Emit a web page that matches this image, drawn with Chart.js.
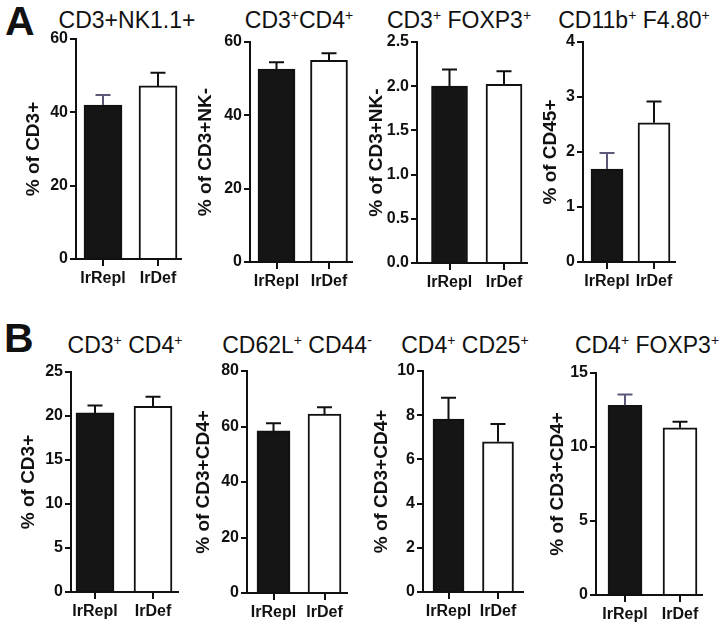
<!DOCTYPE html>
<html><head><meta charset="utf-8">
<script src="https://cdn.jsdelivr.net/npm/chart.js@4/dist/chart.umd.min.js"></script>
<style>
html,body{margin:0;padding:0;background:#fff;}
body{width:726px;height:635px;position:relative;overflow:hidden;font-family:"Liberation Sans",Arial,sans-serif;color:#111;}
.ttl{position:absolute;font-size:23px;white-space:nowrap;transform:translate(-50%,-50%);line-height:1;}
.ttl .sp{font-size:14px;position:relative;top:-8px;}
.let{position:absolute;font-weight:bold;font-size:41px;line-height:1;}
canvas{position:absolute;}
</style></head><body>
<div class="let" style="left:5px;top:1px">A</div>
<div class="let" style="left:4px;top:318px">B</div>
<script>
// ---- data ----
const groups = ['IrRepl', 'IrDef'];
const panelTitles = ['CD3+NK1.1+', 'CD3⁺CD4⁺', 'CD3⁺ FOXP3⁺', 'CD11b⁺ F4.80⁺',
                     'CD3⁺ CD4⁺', 'CD62L⁺ CD44⁻', 'CD4⁺ CD25⁺', 'CD4⁺ FOXP3⁺'];
const yTitles = ['% of CD3+', '% of CD3+NK-', '% of CD3+NK-', '% of CD45+',
                 '% of CD3+', '% of CD3+CD4+', '% of CD3+CD4+', '% of CD3+CD4+'];
const yMax  = [60, 60, 2.5, 4, 25, 80, 10, 15];
const yStep = [20, 20, 0.5, 1, 5, 20, 2, 5];
const yDecimals = [0, 0, 1, 0, 0, 0, 0, 0];

const meanA1 = [42.0, 47.2],  semA1 = [2.7, 3.6];
const meanA2 = [52.6, 55.0],  semA2 = [1.9, 1.9];
const meanA3 = [2.00, 2.02],  semA3 = [0.19, 0.15];
const meanA4 = [1.69, 2.53],  semA4 = [0.29, 0.39];
const meanB1 = [20.35, 21.1], semB1 = [0.85, 1.1];
const meanB2 = [58.4, 64.5],  semB2 = [2.8, 2.4];
const meanB3 = [7.82, 6.8],   semB3 = [0.97, 0.8];
const meanB4 = [12.82, 11.3], semB4 = [0.72, 0.4];

const means = [meanA1, meanA2, meanA3, meanA4, meanB1, meanB2, meanB3, meanB4];
const sems  = [semA1, semA2, semA3, semA4, semB1, semB2, semB3, semB4];

// ---- styles / layout (pixels) ----
const FONT = '"Liberation Sans", Arial, sans-serif';
const barFill = ['#151515', '#ffffff'];
const errPurple = '#5a5878';
const errColors = [[errPurple,'#111'],['#111','#111'],['#111','#111'],[errPurple,'#111'],
                   ['#111','#111'],['#111','#111'],['#111','#111'],[errPurple,'#111']];
// lab: y-title centre x, L/R: plot left/right, top/zero: y of max/0, c1/c2: bar centres, bw: bar width
const geom = [
  {lab:33,  L:76,  R:181, top:39,  zero:259, c1:103,   c2:158,   bw:38, tx:127, ty:20},
  {lab:205, L:250, R:352, top:42,  zero:262, c1:276.5, c2:329,   bw:37, tx:299, ty:20},
  {lab:376, L:417, R:527, top:42,  zero:263, c1:449.5, c2:504,   bw:36, tx:459, ty:20},
  {lab:550, L:583, R:675, top:42,  zero:262, c1:607,   c2:654,   bw:32, tx:634, ty:20},
  {lab:28,  L:71,  R:178, top:372, zero:592, c1:95,    c2:153,   bw:38, tx:125, ty:345},
  {lab:203, L:247, R:347, top:371, zero:593, c1:273.5, c2:324.5, bw:33, tx:297, ty:345},
  {lab:381, L:423, R:523, top:371, zero:592, c1:448.5, c2:498,   bw:31, tx:465, ty:345},
  {lab:557, L:596, R:702, top:373, zero:595, c1:625,   c2:680,   bw:34, tx:647, ty:345}
];

const errorBars = {
  id: 'errbars',
  afterDatasetsDraw(chart, args, opts) {
    const ctx = chart.ctx, meta = chart.getDatasetMeta(0), ys = chart.scales.y;
    const ds = chart.data.datasets[0];
    meta.data.forEach((bar, i) => {
      const topPx = ys.getPixelForValue(ds.data[i].y + opts.sem[i]);
      const cap = 15;
      ctx.save();
      ctx.strokeStyle = opts.colors[i];
      ctx.lineWidth = 2;
      ctx.beginPath();
      ctx.moveTo(bar.x, bar.y);
      ctx.lineTo(bar.x, topPx);
      ctx.moveTo(bar.x - cap / 2, topPx);
      ctx.lineTo(bar.x + cap / 2, topPx);
      ctx.stroke();
      ctx.restore();
    });
  }
};

function titleHTML(t) {
  return t.replace(/⁺/g, '<span class="sp">+</span>').replace(/⁻/g, '<span class="sp">-</span>');
}

means.forEach((vals, p) => {
  const g = geom[p];
  const padTop = 12, xH = 32, padR = 4;
  const cLeft = Math.round(g.lab - 11.4);
  const cTop = g.top - padTop;
  const cW = g.R - cLeft + padR;
  const cH = g.zero - cTop + xH;

  const t = document.createElement('div');
  t.className = 'ttl';
  t.style.left = g.tx + 'px';
  t.style.top = g.ty + 'px';
  t.innerHTML = titleHTML(panelTitles[p]);
  document.body.appendChild(t);

  const cv = document.createElement('canvas');
  cv.width = cW; cv.height = cH;
  cv.style.left = cLeft + 'px'; cv.style.top = cTop + 'px';
  document.body.appendChild(cv);

  const unit = g.c2 - g.c1;
  new Chart(cv, {
    type: 'bar',
    data: {
      datasets: [{
        data: vals.map((v, i) => ({x: i + 1, y: v})),
        backgroundColor: barFill,
        borderColor: '#111',
        borderWidth: 2,
        borderSkipped: 'bottom',
        barThickness: g.bw
      }]
    },
    options: {
      responsive: false,
      animation: false,
      devicePixelRatio: 1,
      layout: {padding: {top: padTop, right: padR, left: 0, bottom: 0}},
      plugins: {
        legend: {display: false},
        tooltip: {enabled: false},
        errbars: {sem: sems[p], colors: errColors[p]}
      },
      scales: {
        x: {
          type: 'linear',
          offset: false,
          min: 1 - (g.c1 - g.L) / unit,
          max: 2 + (g.R - g.c2) / unit,
          afterBuildTicks: s => { s.ticks = groups.map((_, i) => ({value: i + 1})); },
          afterFit: s => { s.height = xH; },
          grid: {offset: false, drawOnChartArea: false, drawTicks: true, tickLength: 7,
                 color: '#111', lineWidth: 2},
          border: {display: true, color: '#111', width: 2},
          ticks: {
            callback: (v, i) => groups[i],
            color: '#111', padding: 3, maxRotation: 0, autoSkip: false,
            font: {family: FONT, size: 16, weight: 'bold'}
          }
        },
        y: {
          min: 0, max: yMax[p],
          afterFit: s => { s.width = g.L - cLeft; },
          grid: {drawOnChartArea: false, drawTicks: true, tickLength: 6,
                 color: '#111', lineWidth: 2},
          border: {display: true, color: '#111', width: 2},
          ticks: {
            stepSize: yStep[p],
            callback: v => Number(v).toFixed(yDecimals[p]),
            color: '#111', padding: 2,
            font: {family: FONT, size: 16, weight: 'bold'}
          },
          title: {
            display: true, text: yTitles[p], color: '#111', padding: 0,
            font: {family: FONT, size: 19, weight: 'bold', lineHeight: 1.2}
          }
        }
      }
    },
    plugins: [errorBars]
  });
});
</script>
</body></html>
